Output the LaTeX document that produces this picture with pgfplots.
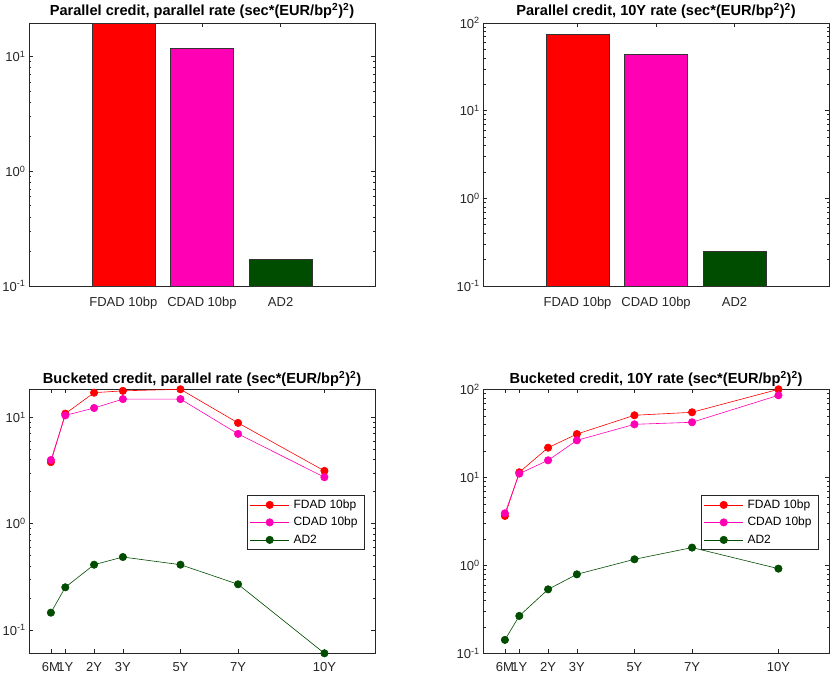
\documentclass[border=0pt]{standalone}
\usepackage{pgfplots}
\pgfplotsset{compat=1.18}
\usepackage{fontspec}
\setmainfont{Liberation Sans}
\definecolor{cred}{RGB}{255,0,0}
\definecolor{cmag}{RGB}{255,0,180}
\definecolor{cgreen}{RGB}{0,77,0}
\definecolor{axgray}{RGB}{38,38,38}

\pgfplotsset{
 mybase/.style={
  scale only axis, clip=false,
  axis line style={axgray, line width=0.6pt},
  tick style={axgray, line width=0.5pt},
  major tick length=4pt, minor tick length=2.2pt,
  tick align=inside,
  tick label style={font=\fontsize{13}{15}\selectfont, text=axgray},
  every axis title shift=0pt,
  title style={font=\bfseries\fontsize{14.6}{17}\selectfont, anchor=base, at={(0.5,1)}},
 },
 mybar/.style={mybase, width=346pt, height=263pt,
  xticklabel style={yshift=-7.5pt},
  xmin=-1.2, xmax=3.2, xtick={0,1,2}, xticklabels={FDAD 10bp, CDAD 10bp, AD2},
  title style={yshift=7pt}},
 myline/.style={mybase, width=345.5pt, height=264pt,
  xticklabel style={yshift=-5.5pt},
  xmin=-0.25, xmax=11.75, xtick={0.5,1,2,3,5,7,10}, xticklabels={6M,1Y,2Y,3Y,5Y,7Y,10Y},
  title style={yshift=6pt},
  legend style={at={(1,0.6)}, xshift=-10pt, anchor=north east,
   font=\fontsize{12}{14}\selectfont, draw=axgray, line width=0.5pt,
   inner xsep=3pt, inner ysep=1pt, row sep=0pt,
   nodes={inner xsep=4pt, inner ysep=0pt, minimum height=17.5pt}},
  legend cell align=left,
  legend image code/.code={\draw[mark repeat=2,mark phase=2,##1] plot coordinates {(0pt,0pt) (19.5pt,0pt) (39pt,0pt)};}},
 bstyle/.style={ybar, bar shift=0pt, bar width=0.8, draw=black!80, line width=0.5pt},
 lstyle/.style={line width=0.6pt, color=#1, mark=*, mark size=3.7pt, mark options={solid, fill=#1, draw=#1}},
}

\begin{document}
\begin{tikzpicture}
\useasboundingbox (0,0) rectangle (830pt,674pt);

% top left
\begin{axis}[ymode=log, log origin=infty, mybar, at={(29pt,388pt)}, anchor=south west,
  ymin=0.1, ymax=19.5, ytick={0.1,1,10},
  yticklabels={10\textsuperscript{-1},10\textsuperscript{0},10\textsuperscript{1}},
  title={Parallel credit, parallel rate (sec*(EUR/bp\textsuperscript{2})\textsuperscript{2})}]
\addplot[bstyle, fill=cred] coordinates {(0,19.5)};
\addplot[bstyle, fill=cmag] coordinates {(1,11.7)};
\addplot[bstyle, fill=cgreen] coordinates {(2,0.17)};
\end{axis}

% top right
\begin{axis}[ymode=log, log origin=infty, mybar, at={(483.3pt,388pt)}, anchor=south west, width=345.5pt,
  ymin=0.1, ymax=100, ytick={0.1,1,10,100},
  yticklabels={10\textsuperscript{-1},10\textsuperscript{0},10\textsuperscript{1},10\textsuperscript{2}},
  title={Parallel credit, 10Y rate (sec*(EUR/bp\textsuperscript{2})\textsuperscript{2})}]
\addplot[bstyle, fill=cred] coordinates {(0,74.8)};
\addplot[bstyle, fill=cmag] coordinates {(1,44.3)};
\addplot[bstyle, fill=cgreen] coordinates {(2,0.247)};
\end{axis}

% bottom left
\begin{axis}[ymode=log, myline, at={(29.3pt,20.7pt)}, anchor=south west,
  ymin=0.0604, ymax=18.3, ytick={0.1,1,10},
  yticklabels={10\textsuperscript{-1},10\textsuperscript{0},10\textsuperscript{1}},
  title={Bucketed credit, parallel rate (sec*(EUR/bp\textsuperscript{2})\textsuperscript{2})}]
\addplot[lstyle=cred] coordinates {(0.5,3.78) (1,10.8) (2,17.0) (3,17.7) (5,18.3) (7,8.84) (10,3.13)};
\addlegendentry{FDAD 10bp}
\addplot[lstyle=cmag] coordinates {(0.5,3.96) (1,10.4) (2,12.2) (3,14.8) (5,14.8) (7,6.97) (10,2.73)};
\addlegendentry{CDAD 10bp}
\addplot[lstyle=cgreen] coordinates {(0.5,0.1455) (1,0.252) (2,0.411) (3,0.485) (5,0.411) (7,0.269) (10,0.0604)};
\addlegendentry{AD2}
\end{axis}

% bottom right
\begin{axis}[ymode=log, myline, at={(483.3pt,20.7pt)}, anchor=south west,
  ymin=0.1, ymax=100, ytick={0.1,1,10,100},
  yticklabels={10\textsuperscript{-1},10\textsuperscript{0},10\textsuperscript{1},10\textsuperscript{2}},
  title={Bucketed credit, 10Y rate (sec*(EUR/bp\textsuperscript{2})\textsuperscript{2})}]
\addplot[lstyle=cred] coordinates {(0.5,3.64) (1,11.4) (2,21.7) (3,31.0) (5,50.7) (7,54.8) (10,100)};
\addlegendentry{FDAD 10bp}
\addplot[lstyle=cmag] coordinates {(0.5,3.90) (1,11.0) (2,15.6) (3,26.3) (5,40.0) (7,42.2) (10,85.5)};
\addlegendentry{CDAD 10bp}
\addplot[lstyle=cgreen] coordinates {(0.5,0.142) (1,0.266) (2,0.533) (3,0.79) (5,1.17) (7,1.59) (10,0.916)};
\addlegendentry{AD2}
\end{axis}
\end{tikzpicture}
\end{document}
